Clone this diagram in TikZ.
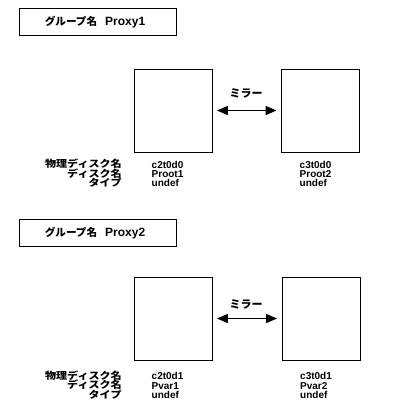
\documentclass[tikz,border=0pt]{standalone}
\usepackage{fontspec}
\setmainfont{Liberation Sans}
\newfontfamily\jp{Noto Sans CJK JP}
\newfontfamily\jpw{Noto Sans CJK JP}[FakeStretch=1.13]
\usetikzlibrary{arrows.meta}
\begin{document}
\begin{tikzpicture}[x=1pt,y=-1pt,
  grp/.style={draw,line width=0.9pt,minimum width=157pt,minimum height=27pt,inner sep=0pt},
  disk/.style={draw,line width=0.9pt,minimum width=78pt,minimum height=83pt,inner sep=0pt},
  mirr/.style={arrows={Triangle[length=11pt,width=9pt]-Triangle[length=11pt,width=9pt]},line width=1.5pt,shorten <=4.5pt,shorten >=4.5pt},
  jtxt/.style={font=\jp\bfseries\fontsize{11}{11}\selectfont,inner sep=0pt},
  lbl/.style={font=\jpw\bfseries\fontsize{9.8}{10}\selectfont,inner sep=0pt,anchor=east,text height=7pt,text depth=1pt},
  val/.style={font=\bfseries\fontsize{10}{10}\selectfont,inner sep=0pt,anchor=west,text height=7pt,text depth=1pt}]
\useasboundingbox (0,0) rectangle (420,420);
% ---- group 1
\node[grp] (g1) at (97.5,21.5) {};
\node[inner sep=0pt] (g1t) at (95,22) {{\jp\bfseries\fontsize{10.6}{11}\selectfont グループ名}\hspace{8pt}{\bfseries\fontsize{12}{12}\selectfont Proxy1}};
\node[disk] (a1) at (173,110.5) {};
\node[disk] (b1) at (320.5,110.5) {};
\draw[mirr] (a1) -- (b1);
\node[jtxt] (m1) at (246,93) {ミラー};
\node[lbl] (l1a) at (122,164.5) {物理ディスク名};
\node[lbl] (l1b) at (122,174) {ディスク名};
\node[lbl] (l1c) at (122,183.5) {タイプ};
\node[val] (v1a) at (151.5,165) {c2t0d0};
\node[val] (v1b) at (151.5,174.5) {Proot1};
\node[val] (v1c) at (151.5,183.5) {undef};
\node[val] (w1a) at (299.5,165) {c3t0d0};
\node[val] (w1b) at (299.5,174.5) {Proot2};
\node[val] (w1c) at (299.5,183.5) {undef};
% ---- group 2
\node[grp] (g2) at (97.5,232.5) {};
\node[inner sep=0pt] (g2t) at (95,233) {{\jp\bfseries\fontsize{10.6}{11}\selectfont グループ名}\hspace{8pt}{\bfseries\fontsize{12}{12}\selectfont Proxy2}};
\node[disk] (a2) at (173,318.5) {};
\node[disk] (b2) at (321,318.5) {};
\draw[mirr] (a2) -- (b2);
\node[jtxt] (m2) at (246,304) {ミラー};
\node[lbl] (l2a) at (122,376) {物理ディスク名};
\node[lbl] (l2b) at (122,385.5) {ディスク名};
\node[lbl] (l2c) at (122,395) {タイプ};
\node[val] (v2a) at (151.5,376.5) {c2t0d1};
\node[val] (v2b) at (151.5,386) {Pvar1};
\node[val] (v2c) at (151.5,395) {undef};
\node[val] (w2a) at (300,376.5) {c3t0d1};
\node[val] (w2b) at (300,386) {Pvar2};
\node[val] (w2c) at (300,395) {undef};
\end{tikzpicture}
\end{document}
